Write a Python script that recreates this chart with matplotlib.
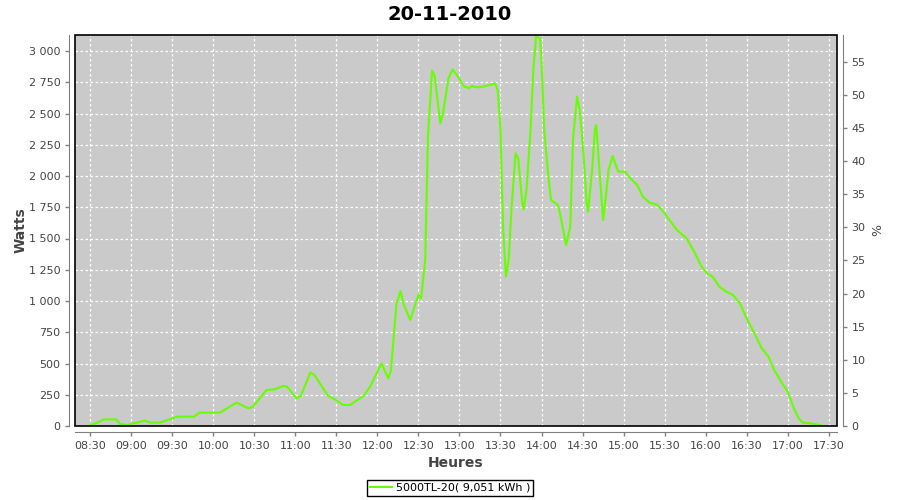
import pandas as pd
import matplotlib
matplotlib.use('Agg')
import matplotlib.pyplot as plt
import matplotlib.dates as mdates
from matplotlib.ticker import FuncFormatter, MultipleLocator
from matplotlib.patches import Rectangle

# data (time of day, watts)
heures = ['08:29', '08:37', '08:40', '08:49', '08:52', '08:57', '09:10', '09:14', '09:21', '09:28',
          '09:34', '09:46', '09:50', '10:05', '10:17', '10:26', '10:29', '10:39', '10:45', '10:51',
          '10:54', '11:01', '11:04', '11:11', '11:14', '11:24', '11:29', '11:35', '11:40', '11:50',
          '11:55', '12:03', '12:08', '12:10', '12:14', '12:17', '12:19', '12:24', '12:28', '12:30',
          '12:32', '12:35', '12:37', '12:40', '12:42', '12:46', '12:48', '12:52', '12:55', '12:59',
          '13:03', '13:07', '13:09', '13:13', '13:17', '13:22', '13:26', '13:28', '13:30', '13:32',
          '13:34', '13:36', '13:38', '13:41', '13:43', '13:46', '13:47', '13:49', '13:52', '13:54',
          '13:56', '13:59', '14:00', '14:02', '14:05', '14:07', '14:12', '14:14', '14:18', '14:21',
          '14:23', '14:26', '14:28', '14:31', '14:33', '14:34', '14:37', '14:39', '14:40', '14:42',
          '14:45', '14:47', '14:49', '14:52', '14:56', '15:01', '15:05', '15:10', '15:14', '15:19',
          '15:25', '15:29', '15:39', '15:46', '15:51', '15:57', '16:01', '16:05', '16:10', '16:15',
          '16:20', '16:25', '16:30', '16:35', '16:41', '16:46', '16:50', '16:56', '17:00', '17:04',
          '17:08', '17:11', '17:17', '17:25']
watts = [0, 35, 53, 53, 16, 8, 43, 27, 27, 53,
         75, 75, 107, 107, 187, 141, 155, 288, 293, 320,
         315, 221, 240, 427, 408, 240, 213, 168, 168, 240,
         320, 501, 381, 448, 981, 1080, 981, 848, 981, 1048,
         1021, 1328, 2315, 2843, 2795, 2421, 2500, 2781, 2853, 2795,
         2720, 2701, 2720, 2709, 2715, 2728, 2741, 2688, 2368, 1568,
         1195, 1328, 1728, 2181, 2141, 1781, 1733, 1888, 2368, 2848,
         3115, 3100, 2915, 2368, 1995, 1808, 1768, 1675, 1448, 1595,
         2288, 2635, 2528, 2128, 1781, 1715, 2048, 2368, 2408, 2101,
         1648, 1835, 2048, 2160, 2035, 2035, 1981, 1928, 1835, 1787,
         1768, 1715, 1568, 1501, 1408, 1275, 1221, 1195, 1115, 1075,
         1048, 981, 861, 755, 621, 555, 448, 341, 275, 155,
         61, 27, 21, 3]

titre = '20-11-2010'
legende = '5000TL-20( 9,051 kWh )'
puissance_max = 5300  # 100 % on the right axis

t = pd.to_datetime(['2010-11-20 ' + h for h in heures])

fig = plt.figure(figsize=(9, 5), dpi=100)
ax = fig.add_axes([75 / 900, 74 / 500, 762 / 900, 391 / 500])
ax.set_facecolor('#cacaca')

ligne, = ax.plot(t, watts, color='#66ff00', lw=1.5, label=legende)

ymax = 3128
ax.set_ylim(0, ymax)
ax.set_xlim(pd.Timestamp('2010-11-20 08:19'), pd.Timestamp('2010-11-20 17:36'))
ax.yaxis.set_major_locator(MultipleLocator(250))
ax.yaxis.set_major_formatter(FuncFormatter(lambda v, p: '{:,.0f}'.format(v).replace(',', ' ')))
ax.xaxis.set_major_locator(mdates.MinuteLocator(byminute=[0, 30]))
ax.xaxis.set_major_formatter(mdates.DateFormatter('%H:%M'))
ax.grid(True, color='white', ls=(0, (2, 2)), lw=0.9)

ax2 = ax.twinx()
ax2.set_ylim(0, ymax / puissance_max * 100)
ax2.yaxis.set_major_locator(MultipleLocator(5))

for a in (ax, ax2):
    for s in a.spines.values():
        s.set_visible(False)
    a.tick_params(colors='#808080', labelcolor='#444444', labelsize=8, length=3, width=1)
ax.spines['left'].set_visible(True)
ax.spines['bottom'].set_visible(True)
ax2.spines['right'].set_visible(True)
for s in (ax.spines['left'], ax.spines['bottom'], ax2.spines['right']):
    s.set_position(('outward', 4))
    s.set_color('#808080')

# plot outline
ax2.add_patch(Rectangle((0, 0), 1, 1, transform=ax2.transAxes, fill=False,
                        edgecolor='black', lw=1.2, clip_on=False, zorder=5))

ax.set_ylabel('Watts', fontsize=10, fontweight='bold', color='#444444', labelpad=1)
ax.set_xlabel('Heures', fontsize=10, fontweight='bold', color='#444444', labelpad=4)
ax2.set_ylabel('%', fontsize=9, color='#444444', labelpad=4)

fig.suptitle(titre, fontsize=14, fontweight='bold', y=0.99)

leg = fig.legend(handles=[ligne], loc='center', bbox_to_anchor=(0.5, 0.024), fontsize=8,
                 frameon=True, fancybox=False, edgecolor='black', framealpha=1,
                 handlelength=2, handletextpad=0.3, borderpad=0.3, borderaxespad=0)
leg.get_frame().set_linewidth(1)

plt.savefig('out.png', dpi=100)
